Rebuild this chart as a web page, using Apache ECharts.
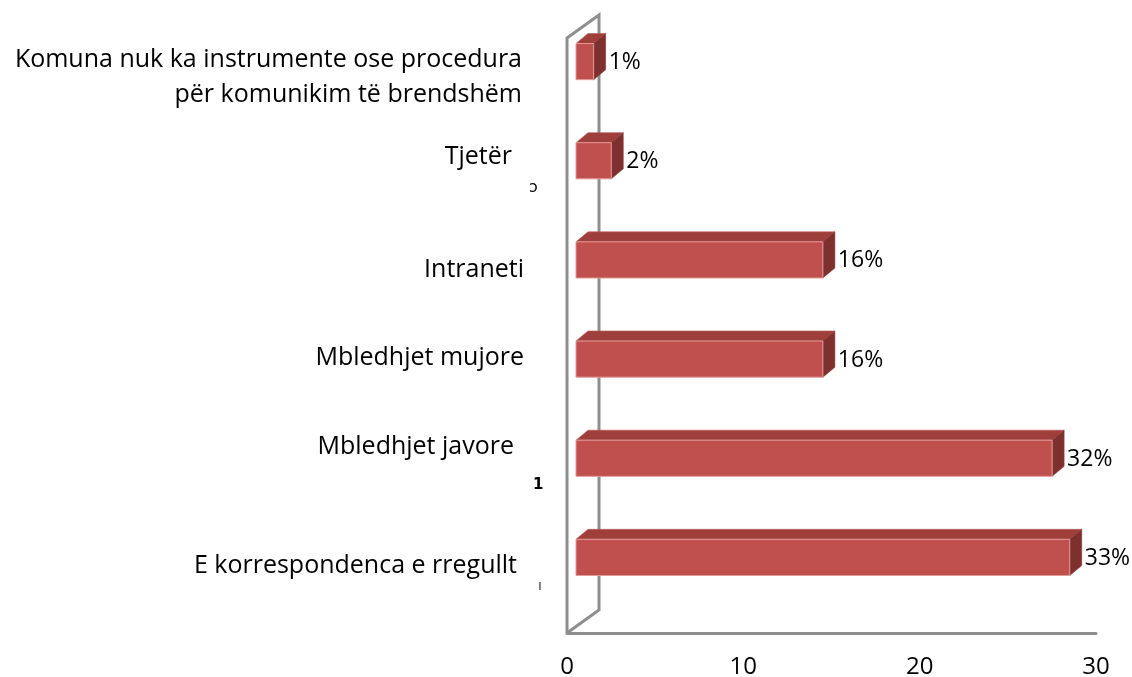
<!DOCTYPE html>
<html>
<head>
<meta charset="utf-8">
<script src="https://cdn.jsdelivr.net/npm/echarts@6/dist/echarts.min.js"></script>
<style>html,body{margin:0;padding:0;background:#fff}#c{width:1132px;height:677px}</style>
</head>
<body>
<div id="c"></div>
<script>
const categories = ['E korrespondenca e rregullt', 'Mbledhjet javore', 'Mbledhjet mujore', 'Intraneti', 'Tjetër', 'Komuna nuk ka instrumente ose procedura\npër komunikim të brendshëm'];
const values = [28, 27, 14, 14, 2, 1];
const percentLabels = ['33%', '32%', '16%', '16%', '2%', '1%'];
const xTicks = [0, 10, 20, 30];
// small per-label nudges [down(+)/up(-), right inset] to mimic the original's placement
const labelNudges = [[5, 7], [-14, 10], [-4, 0], [7, 0], [-7, 12], [13, 2]];

const FONT = 'Open Sans';
const chart = echarts.init(document.getElementById('c'), null, {renderer: 'canvas'});

const barData = values.map((v, i) => [v, i, percentLabels[i]]);
const catLabelData = categories.map((c, i) => [0, i]);

chart.setOption({
  backgroundColor: '#ffffff',
  animation: false,
  grid: {left: 567, right: 36, top: 15, bottom: 67, containLabel: false, outerBoundsMode: 'none'},
  xAxis: {
    type: 'value', min: xTicks[0], max: xTicks[xTicks.length - 1], interval: 10,
    offset: 23,
    axisLine: {show: true, lineStyle: {color: '#8e8e8e', width: 3}},
    axisTick: {show: false},
    splitLine: {show: false},
    axisLabel: {fontFamily: FONT, fontSize: 24, color: '#000', margin: 22}
  },
  yAxis: {
    type: 'category', data: categories,
    axisLine: {show: false}, axisTick: {show: false}, splitLine: {show: false},
    axisLabel: {show: false}
  },
  series: [
    {
      type: 'custom', z: 1, silent: true,
      data: [[0, 0]],
      renderItem: function (params, api) {
        const cs = params.coordSys;
        const x = api.coord([0, 0])[0];
        const top = cs.y, bot = cs.y + cs.height;
        return {
          type: 'polyline',
          shape: {points: [[x, bot + 23], [x, top + 23], [x + 32, top], [x + 32, bot], [x, bot + 23]]},
          style: {stroke: '#8e8e8e', lineWidth: 3, fill: null}
        };
      }
    },
    {
      type: 'custom', z: 3, silent: true,
      data: catLabelData,
      encode: {x: 0, y: 1},
      renderItem: function (params, api) {
        const idx = api.value(1);
        const p = api.coord([0, idx]);
        const n = labelNudges[idx];
        return {
          type: 'text',
          style: {x: p[0] - 43 - n[1], y: p[1] + n[0], text: categories[idx], fill: '#000',
            font: '25px ' + FONT, textAlign: 'right', textVerticalAlign: 'middle', lineHeight: 35}
        };
      }
    },
    {
      type: 'custom', z: 2,
      data: barData,
      encode: {x: 0, y: 1},
      renderItem: function (params, api) {
        const v = api.value(0), idx = api.value(1);
        const p0 = api.coord([0, idx]);
        const p1 = api.coord([v, idx]);
        const band = api.size([0, 1])[1];
        const h = band * 0.365;
        const x0 = p0[0] + 9, x1 = p1[0] + 9;
        const yc = p0[1] - 3;
        const t = yc - h / 2, b = yc + h / 2;
        const dx = 12, dy = 10;
        return {
          type: 'group',
          children: [
            {type: 'polygon', shape: {points: [[x0, t], [x0 + dx, t - dy], [x1 + dx, t - dy], [x1, t]]},
              style: {fill: '#9f3f3c', stroke: '#b85a57', lineWidth: 0.6}},
            {type: 'polygon', shape: {points: [[x1, t], [x1 + dx, t - dy], [x1 + dx, b - dy], [x1, b]]},
              style: {fill: '#7e302e', stroke: '#8a3936', lineWidth: 0.6}},
            {type: 'rect', shape: {x: x0, y: t, width: x1 - x0, height: b - t},
              style: {fill: '#c0504d', stroke: '#e49a98', lineWidth: 1}},
            {type: 'text', style: {x: x1 + dx + 3, y: yc + 1, text: api.value(2), fill: '#000',
              font: '23px ' + FONT, textAlign: 'left', textVerticalAlign: 'middle'}}
          ]
        };
      }
    }
  ],
  graphic: [
    {type: 'text', left: 529, top: 180, style: {text: 'ɔ', fill: '#000', font: '16px DejaVu Sans'}},
    {type: 'text', left: 533, top: 478, style: {text: '1', fill: '#000', font: 'bold 15px DejaVu Sans'}},
    {type: 'text', left: 538, top: 579, style: {text: 'ı', fill: '#444', font: '14px DejaVu Sans'}}
  ]
});
</script>
</body>
</html>
